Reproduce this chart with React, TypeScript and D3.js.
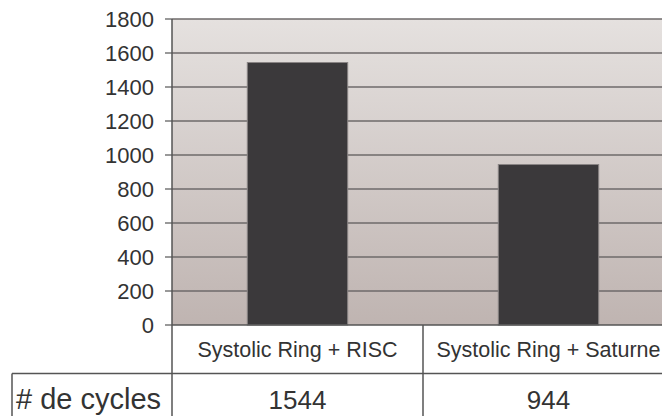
import React from "react";
import * as d3 from "d3";

const categories = ["Systolic Ring + RISC", "Systolic Ring + Saturne"];
const cycles = [1544, 944];
const yTicks = [0, 200, 400, 600, 800, 1000, 1200, 1400, 1600, 1800];
const rowLabel = "# de cycles";

export default function App() {
  const W = 662, H = 416;
  const left = 172, top = 19, bottom = 325, right = 674;
  const rowSep = 373.5;
  const x = d3.scaleBand<string>().domain(categories).range([left, right]).paddingInner(0).paddingOuter(0);
  const y = d3.scaleLinear().domain([0, 1800]).range([bottom, top]);
  const bw = x.bandwidth() * 0.4;
  const font = "'Liberation Sans', Arial, sans-serif";
  const txt = "#333333";
  return (
    <svg width={W} height={H} style={{ position: "absolute", left: 0, top: 0, display: "block" }}>
      <defs>
        <linearGradient id="bg" x1="0" y1="0" x2="0" y2="1">
          <stop offset="0%" stopColor="#e5e1df" />
          <stop offset="100%" stopColor="#bfb4b1" />
        </linearGradient>
      </defs>
      <rect x={0} y={0} width={W} height={H} fill="#ffffff" />
      <rect x={left} y={top} width={right - left} height={bottom - top} fill="url(#bg)" />
      {yTicks.map((t) => (
        <g key={t}>
          {t > 0 && (
            <line x1={left} x2={right} y1={y(t)} y2={y(t)} stroke="#6e6a6a" strokeWidth={1.5} />
          )}
          <line x1={left - 7} x2={left} y1={y(t)} y2={y(t)} stroke="#555" strokeWidth={1.2} />
          <text x={154} y={y(t)} dy="0.36em" textAnchor="end" fontFamily={font} fontSize={22} fill={txt}>
            {t}
          </text>
        </g>
      ))}
      {categories.map((c, i) => (
        <rect
          key={c}
          x={x(c)! + x.bandwidth() / 2 - bw / 2}
          y={y(cycles[i])}
          width={bw}
          height={bottom - y(cycles[i])}
          fill="#3b393b"
          stroke="#8a8585"
          strokeWidth={1}
        />
      ))}
      <line x1={left} x2={right} y1={bottom} y2={bottom} stroke="#555" strokeWidth={1.5} />
      <line x1={left} x2={left} y1={top} y2={H} stroke="#555" strokeWidth={1.5} />
      <line x1={12} x2={W} y1={rowSep} y2={rowSep} stroke="#555" strokeWidth={1.5} />
      <line x1={12} x2={12} y1={rowSep} y2={H} stroke="#555" strokeWidth={1.5} />
      {categories.map((c, i) =>
        i > 0 ? (
          <line key={c} x1={x(c)!} x2={x(c)!} y1={bottom} y2={H} stroke="#555" strokeWidth={1.5} />
        ) : null
      )}
      {categories.map((c) => (
        <text key={c} x={x(c)! + x.bandwidth() / 2} y={357} textAnchor="middle" fontFamily={font} fontSize={21.5} fill={txt}>
          {c}
        </text>
      ))}
      {categories.map((c, i) => (
        <text key={c + "v"} x={x(c)! + x.bandwidth() / 2} y={409} textAnchor="middle" fontFamily={font} fontSize={26} fill={txt}>
          {cycles[i]}
        </text>
      ))}
      <text x={16} y={409} fontFamily={font} fontSize={29} fill={txt}>
        {rowLabel}
      </text>
    </svg>
  );
}
